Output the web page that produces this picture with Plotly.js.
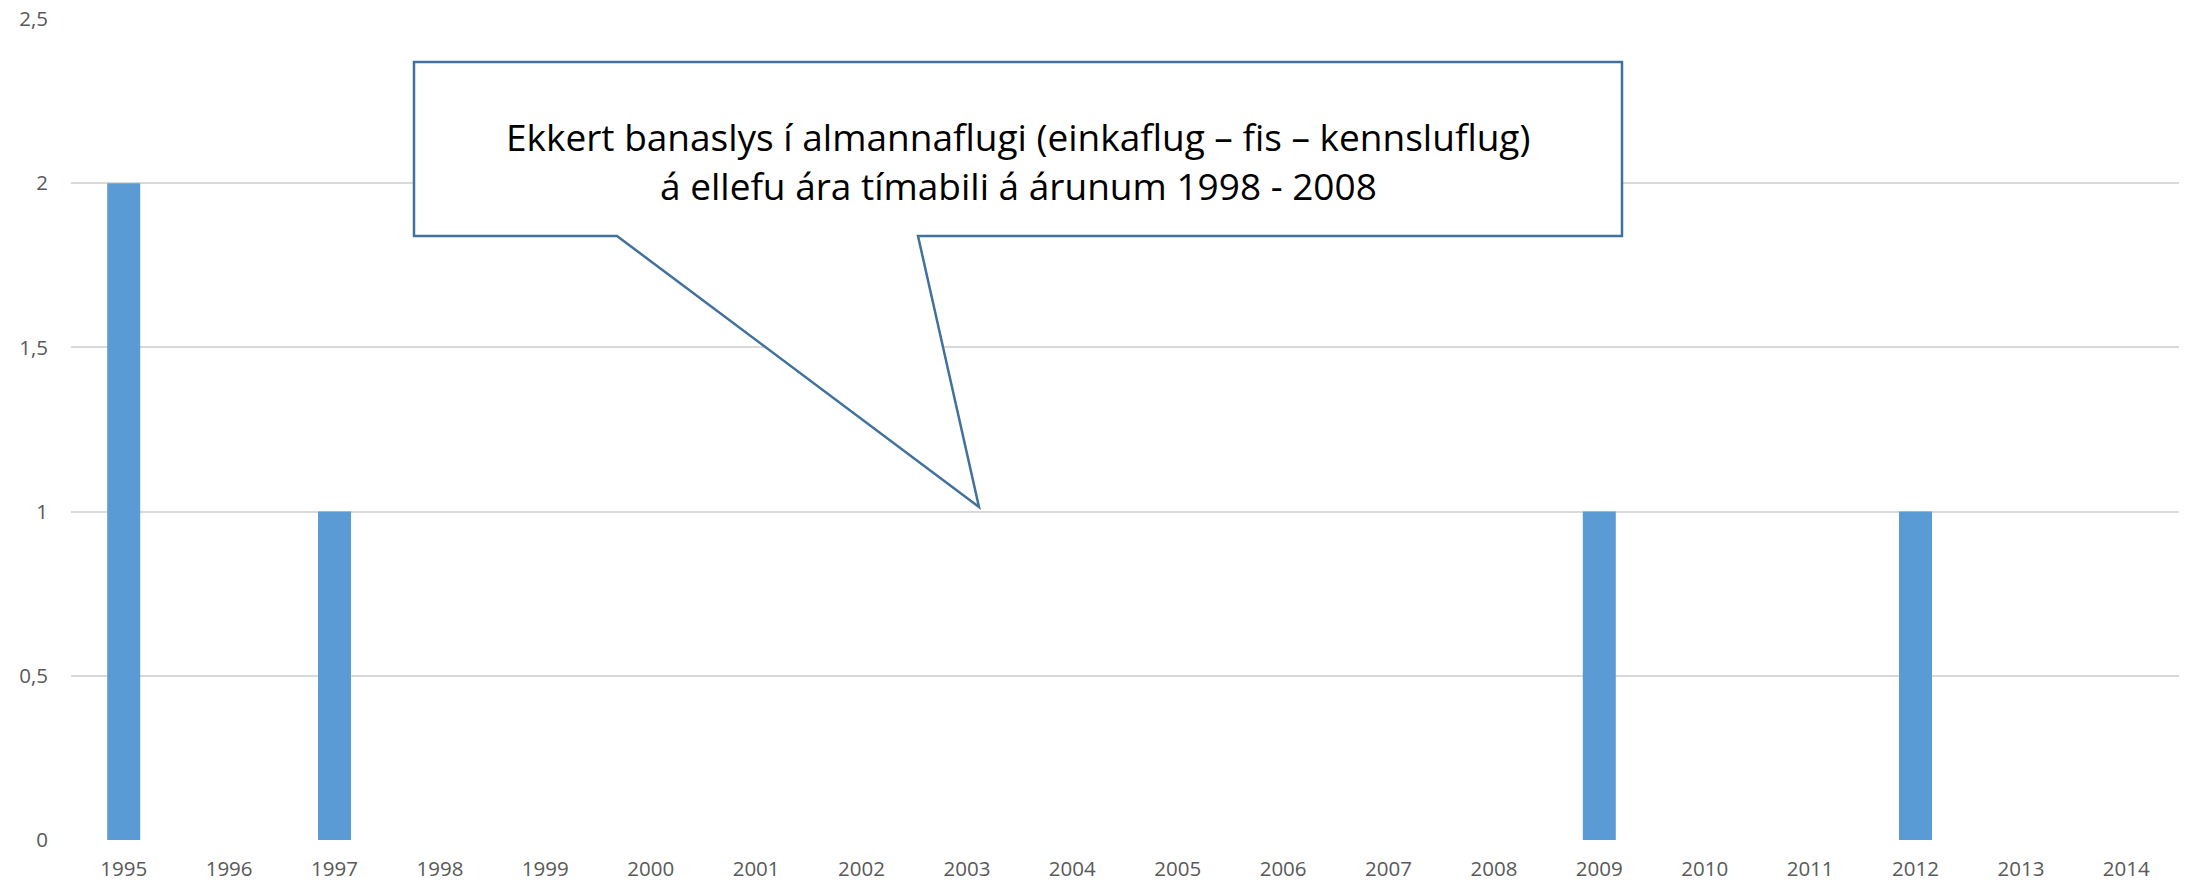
<!DOCTYPE html>
<html>
<head>
<meta charset="utf-8">
<script src="https://cdn.plot.ly/plotly-3.0.1.min.js"></script>
<style>html,body{margin:0;padding:0;background:#fff;}#chart{width:2188px;height:885px;}</style>
</head>
<body>
<div id="chart"></div>
<script>
const years = ['1995','1996','1997','1998','1999','2000','2001','2002','2003','2004','2005','2006','2007','2008','2009','2010','2011','2012','2013','2014'];
const fatalities = [2,0,1,0,0,0,0,0,0,0,0,0,0,0,1,0,0,1,0,0];
const yTickVals = [0,0.5,1,1.5,2,2.5];
const calloutLines = ['Ekkert banaslys í almannaflugi (einkaflug – fis – kennsluflug)', 'á ellefu ára tímabili á árunum 1998 - 2008'];

const W = 2188, H = 885;
const M = {l: 71, r: 9, t: 19, b: 45};
const PW = W - M.l - M.r, PH = H - M.t - M.b;
const px = x => (x - M.l) / PW;
const py = y => (H - M.b - y) / PH;

// callout geometry (pixels)
const box = {l: 414, r: 1622, t: 62, b: 236};
const ptr = {a: 617, b: 918, tipX: 979, tipY: 507};
const pts = [[box.l,box.t],[box.r,box.t],[box.r,box.b],[ptr.b,box.b],[ptr.tipX,ptr.tipY],[ptr.a,box.b],[box.l,box.b]];
const path = 'M ' + pts.map(p => px(p[0]).toFixed(5) + ',' + py(p[1]).toFixed(5)).join(' L ') + ' Z';

const FONT = '"Open Sans", Lato, sans-serif';

const trace = {
  type: 'bar',
  x: years,
  y: fatalities,
  marker: {color: '#5B9BD5'},
  hoverinfo: 'x+y'
};

const layout = {
  width: W, height: H,
  margin: M,
  paper_bgcolor: '#fff', plot_bgcolor: '#fff',
  separators: ',.',
  bargap: 0.687,
  showlegend: false,
  font: {family: FONT, size: 20, color: '#595959'},
  xaxis: {
    type: 'category',
    showgrid: false, zeroline: false, showline: false,
    ticks: '', tickfont: {family: FONT, size: 20.5, color: '#595959'},
    ticklabelstandoff: 14
  },
  yaxis: {
    range: [0, 2.5],
    tickvals: yTickVals,
    showgrid: true, gridcolor: '#D9D9D9', gridwidth: 2,
    zeroline: false, showline: false,
    ticks: '', tickfont: {family: FONT, size: 20.5, color: '#595959'},
    ticklabelstandoff: 22
  },
  shapes: [{
    type: 'path', xref: 'paper', yref: 'paper',
    path: path,
    fillcolor: '#ffffff',
    line: {color: '#41719C', width: 2.5},
    layer: 'above'
  }],
  annotations: calloutLines.map((t, i) => ({
    xref: 'paper', yref: 'paper',
    x: px((box.l + box.r) / 2), y: py(136 + i * 50),
    xanchor: 'center', yanchor: 'middle',
    text: t, showarrow: false,
    font: {family: FONT, size: 37, color: '#000000'}
  }))
};

Plotly.newPlot('chart', [trace], layout, {displayModeBar: false, staticPlot: true});
</script>
</body>
</html>
